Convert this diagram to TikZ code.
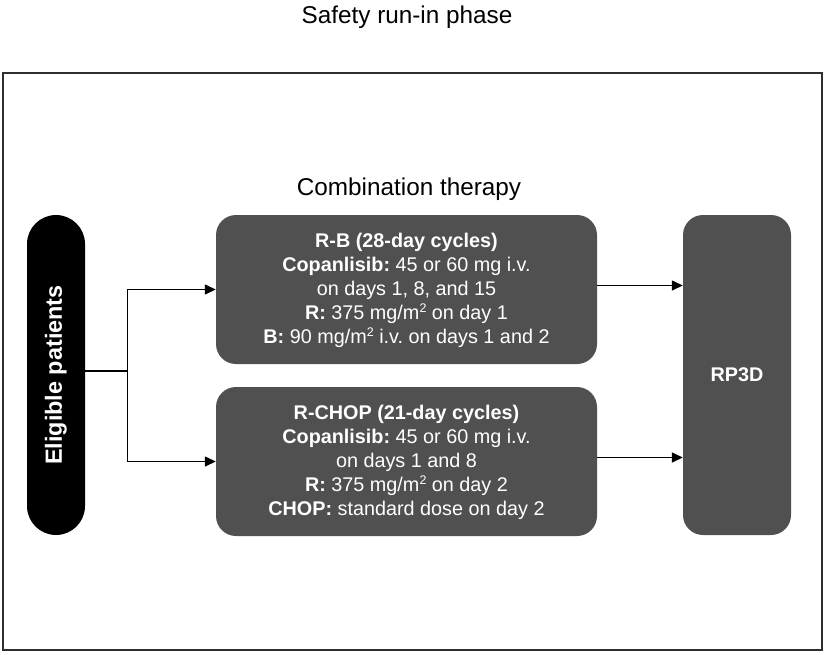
\documentclass[tikz,border=0pt]{standalone}
\usepackage{fontspec}
\setmainfont{Liberation Sans}
\usetikzlibrary{arrows.meta}
\frenchspacing
\definecolor{boxgray}{HTML}{505050}
\definecolor{framegray}{HTML}{2E2E2E}
\newcommand{\sqm}{m\raisebox{0.6ex}{\fontsize{12.5}{12.5}\selectfont 2}}
\tikzset{
    armbox/.style={draw=none,fill=boxgray,text=white,rounded corners=20pt,align=center,
        minimum width=381pt,minimum height=149pt,inner sep=0pt,
        font=\fontsize{19.8}{24}\selectfont},
    flowarrow/.style={line width=1.4pt,-{Triangle[length=11pt,width=10pt]}}
}
\begin{document}
\begin{tikzpicture}[x=1pt,y=-1pt]
    \useasboundingbox (0,0) rectangle (825,654);
    % Outer frame of the phase:
    \draw [line width=2pt,framegray] (3,73) rectangle (822,650);
    \node (title) at (407,17) {\fontsize{24.3}{25}\selectfont Safety run-in phase};
    \node (combo) at (409,189) {\fontsize{24.3}{25}\selectfont Combination therapy};

    % Left pill, rotated text:
    \node (elig) [fill=black,text=white,rotate=90,rounded corners=29pt,
        minimum width=320pt,minimum height=58pt,inner sep=0pt,
        font=\bfseries\fontsize{23.4}{25}\selectfont] at (56,375) {Eligible patients};

    % The two treatment arms (text set a little low, as in the figure):
    \node (rb) [armbox,text depth=3pt] at (406.5,289.5) {\textbf{R-B (28-day cycles)}\\
        \textbf{Copanlisib:} 45 or 60 mg i.v.\\
        on days 1, 8, and 15\\
        \textbf{R:} 375 mg/\sqm{} on day 1\\
        \textbf{B:} 90 mg/\sqm{} i.v. on days 1 and 2};
    \node (rchop) [armbox,text depth=3pt] at (406.5,461.5) {\textbf{R-CHOP (21-day cycles)}\\
        \textbf{Copanlisib:} 45 or 60 mg i.v.\\
        on days 1 and 8\\
        \textbf{R:} 375 mg/\sqm{} on day 2\\
        \textbf{CHOP:} standard dose on day 2};

    % Right box:
    \node (rp) [fill=boxgray,text=white,rounded corners=20pt,minimum width=108pt,
        minimum height=320pt,inner sep=0pt,font=\bfseries\fontsize{19.8}{25}\selectfont]
        at (737,375) {RP3D};

    % Connectors:
    \draw [line width=1.4pt] ([yshift=4pt]elig.south) -- ++(42,0) coordinate (split);
    \draw [flowarrow] (split) |- (rb.west);
    \draw [flowarrow] (split) |- (rchop.west);
    \draw [flowarrow] ([yshift=4pt]rb.east) -- ([yshift=4pt]rb.east -| rp.west);
    \draw [flowarrow] ([yshift=4pt]rchop.east) -- ([yshift=4pt]rchop.east -| rp.west);
\end{tikzpicture}
\end{document}
